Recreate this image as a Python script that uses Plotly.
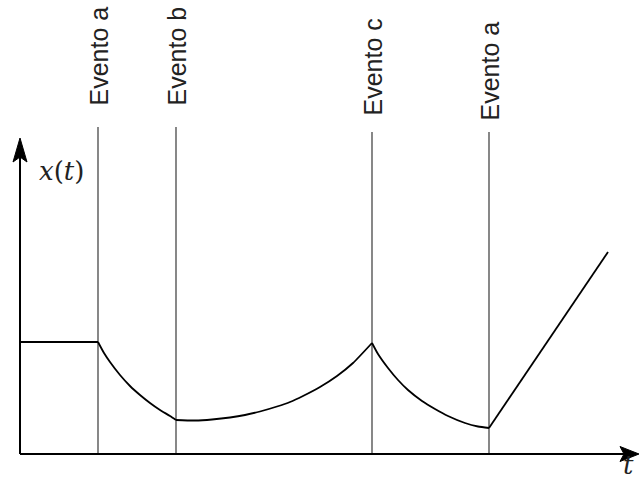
import plotly.graph_objects as go

# ---- data (t horizontal, x(t) vertical) ----
curve_t = [0, 78, 84, 90, 100, 110, 120, 130, 140, 150, 156, 175, 192, 210, 225, 240, 257,
           270, 283, 300, 317, 333, 352, 358, 368, 378, 388, 402, 415, 428, 445, 458, 469, 588]
curve_x = [112, 112, 101, 92, 79, 68, 59, 51, 44, 38, 34, 33.5, 34.5, 36.5, 39, 42.5, 47.5,
           52, 58, 67, 78, 91, 111, 100, 86, 74, 64, 53, 45, 38, 31, 27.5, 26, 202]

event_t = [78, 156, 352, 469]
event_labels = ["Evento a", "Evento b", "Evento c", "Evento a"]
event_top = [327, 327, 322, 322]
label_bottom = [346, 346, 336, 331]

y_label = "<i>x</i>(<i>t</i>)"
x_label = "<i>t</i>"

T_MAX = 619   # x-axis arrow tip
X_MAX = 316   # y-axis arrow tip

fig = go.Figure()

# event lines
for t, top in zip(event_t, event_top):
    fig.add_trace(go.Scatter(x=[t, t], y=[0, top], mode="lines",
                             line=dict(color="#6a6a6a", width=1.6),
                             hoverinfo="skip", showlegend=False))

# axes
fig.add_trace(go.Scatter(x=[0, T_MAX - 12], y=[0, 0], mode="lines",
                         line=dict(color="black", width=2), showlegend=False, hoverinfo="skip"))
fig.add_trace(go.Scatter(x=[0, 0], y=[0, X_MAX - 15], mode="lines",
                         line=dict(color="black", width=2), showlegend=False, hoverinfo="skip"))

# curve: one smooth piece between consecutive events, so the corners stay sharp
breaks = [0] + [curve_t.index(t) for t in event_t] + [len(curve_t) - 1]
for i0, i1 in zip(breaks[:-1], breaks[1:]):
    fig.add_trace(go.Scatter(x=curve_t[i0:i1 + 1], y=curve_x[i0:i1 + 1], mode="lines",
                             line=dict(color="black", width=1.8, shape="spline", smoothing=0.6),
                             showlegend=False, hoverinfo="skip"))

# arrowheads
fig.add_shape(type="path",
              path=f"M {T_MAX},0 L {T_MAX-19},7.5 L {T_MAX-15},0 L {T_MAX-19},-7.5 Z",
              fillcolor="black", line=dict(color="black", width=1))
fig.add_shape(type="path",
              path=f"M 0,{X_MAX} L 7,{X_MAX-24} L 0,{X_MAX-19} L -7,{X_MAX-24} Z",
              fillcolor="black", line=dict(color="black", width=1))

annotations = []
for t, lab, lb in zip(event_t, event_labels, label_bottom):
    annotations.append(dict(x=t, y=lb, text=lab, textangle=-90, showarrow=False,
                            xanchor="center", yanchor="bottom",
                            font=dict(family="Liberation Sans, Arial", size=25, color="#222")))
annotations.append(dict(x=17, y=283, text=y_label, showarrow=False, xanchor="left", yanchor="middle",
                        font=dict(family="DejaVu Serif", size=26, color="#222")))
annotations.append(dict(x=608, y=-28, text=x_label, showarrow=False, xanchor="center", yanchor="bottom",
                        font=dict(family="DejaVu Serif", size=26, color="#222")))

fig.update_layout(
    width=639, height=483,
    margin=dict(l=0, r=0, t=0, b=0),
    paper_bgcolor="white", plot_bgcolor="white",
    xaxis=dict(range=[-20, 619], visible=False, fixedrange=True),
    yaxis=dict(range=[-29, 454], visible=False, fixedrange=True),
    annotations=annotations,
    showlegend=False,
)

# remove the page's default body margin so the 639x483 figure fills the window
fig.write_html("out.html", config={"displayModeBar": False},
               post_script="document.body.style.margin='0';document.body.style.overflow='hidden';")
